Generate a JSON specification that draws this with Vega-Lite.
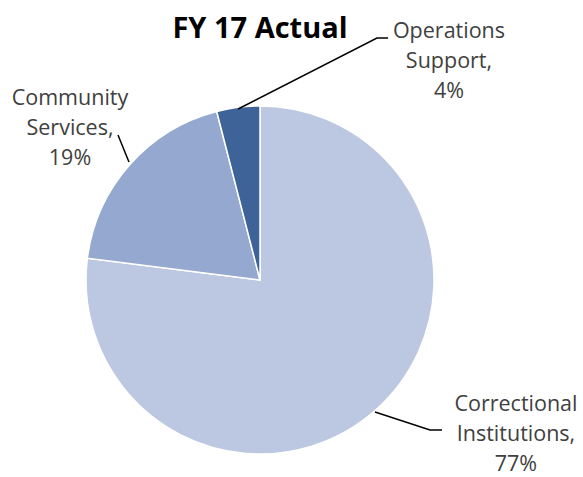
{
  "$schema": "https://vega.github.io/schema/vega-lite/v6.json",
  "width": 348,
  "height": 348,
  "autosize": {"type": "none"},
  "padding": {"left": 86, "top": 106, "right": 149, "bottom": 23},
  "background": "white",
  "title": {"text": "FY 17 Actual", "font": "Open Sans", "fontSize": 29, "fontWeight": "bold", "color": "#000000", "anchor": "middle", "offset": -23},
  "datasets": {
    "slices": [
      {"category": "Correctional Institutions", "share": 77},
      {"category": "Community Services", "share": 19},
      {"category": "Operations Support", "share": 4}
    ],
    "leaders": [
      {"category": "Operations Support", "point": 1, "x": -0.126, "y": 0.983},
      {"category": "Operations Support", "point": 2, "x": 0.672, "y": 1.391},
      {"category": "Operations Support", "point": 3, "x": 0.736, "y": 1.391},
      {"category": "Community Services", "point": 1, "x": -0.753, "y": 0.678},
      {"category": "Community Services", "point": 2, "x": -0.816, "y": 0.833},
      {"category": "Correctional Institutions", "point": 1, "x": 0.661, "y": -0.759},
      {"category": "Correctional Institutions", "point": 2, "x": 0.977, "y": -0.862},
      {"category": "Correctional Institutions", "point": 3, "x": 1.046, "y": -0.862}
    ],
    "callouts": [
      {"category": "Operations Support", "label": "Operations\nSupport,\n4%", "x": 1.086, "y": 1.425},
      {"category": "Community Services", "label": "Community\nServices,\n19%", "x": -1.092, "y": 1.042},
      {"category": "Correctional Institutions", "label": "Correctional\nInstitutions,\n77%", "x": 1.471, "y": -0.717}
    ]
  },
  "layer": [
    {
      "data": {"name": "slices"},
      "mark": {"type": "arc", "outerRadius": 174, "stroke": "white", "strokeWidth": 1.5},
      "encoding": {
        "theta": {"field": "share", "type": "quantitative", "stack": true},
        "order": {"field": "share", "sort": "descending"},
        "color": {
          "field": "category",
          "type": "nominal",
          "scale": {
            "domain": ["Correctional Institutions", "Community Services", "Operations Support"],
            "range": ["#BCC8E1", "#94A8D0", "#3E6399"]
          },
          "legend": null
        }
      }
    },
    {
      "data": {"name": "leaders"},
      "mark": {"type": "line", "color": "#000000", "strokeWidth": 1.5},
      "encoding": {
        "x": {"field": "x", "type": "quantitative", "scale": {"domain": [-1, 1], "nice": false, "zero": false}, "axis": null},
        "y": {"field": "y", "type": "quantitative", "scale": {"domain": [-1, 1], "nice": false, "zero": false}, "axis": null},
        "detail": {"field": "category"},
        "order": {"field": "point"}
      }
    },
    {
      "data": {"name": "callouts"},
      "mark": {"type": "text", "font": "Open Sans", "fontSize": 21.5, "color": "#404040", "lineBreak": "\n", "lineHeight": 30, "align": "center", "baseline": "middle"},
      "encoding": {
        "x": {"field": "x", "type": "quantitative"},
        "y": {"field": "y", "type": "quantitative"},
        "text": {"field": "label"}
      }
    }
  ],
  "config": {"view": {"stroke": null}}
}
